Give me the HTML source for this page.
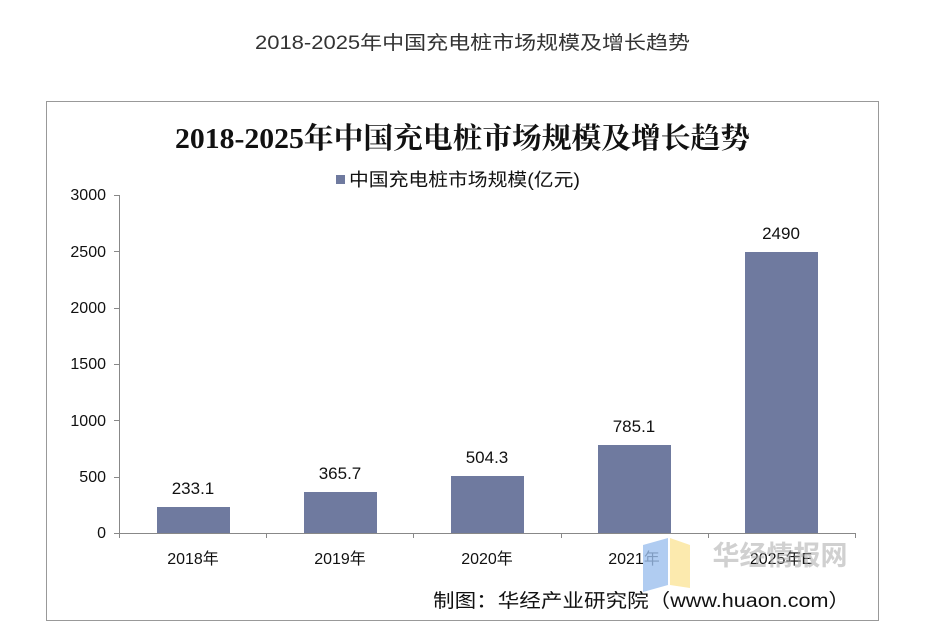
<!DOCTYPE html>
<html><head><meta charset="utf-8"><style>
body{margin:0;background:#fff;width:930px;height:625px;overflow:hidden;font-family:"Liberation Sans","Noto Sans CJK SC",sans-serif}
</style></head><body>
<svg width="930" height="625" xmlns="http://www.w3.org/2000/svg" style="font-family:'Liberation Sans','Noto Sans CJK SC',sans-serif">
<text x="255" y="49" font-size="19" fill="#333" textLength="435" lengthAdjust="spacingAndGlyphs">2018-2025年中国充电桩市场规模及增长趋势</text>
<rect x="46.5" y="101.5" width="832" height="519" fill="#fff" stroke="#999" stroke-width="1"/>
<text x="175" y="148" font-size="29" font-weight="bold" fill="#111" font-family="'Liberation Serif','Noto Serif CJK SC',serif" textLength="575" lengthAdjust="spacingAndGlyphs">2018-2025年中国充电桩市场规模及增长趋势</text>
<rect x="336" y="175" width="9" height="9" fill="#6f7a9f"/>
<text x="349" y="186" font-size="18" fill="#111" textLength="231" lengthAdjust="spacingAndGlyphs">中国充电桩市场规模(亿元)</text>
<g font-size="16" fill="#111" text-anchor="end">
<text x="106" y="200">3000</text><text x="106" y="257">2500</text><text x="106" y="313">2000</text>
<text x="106" y="369">1500</text><text x="106" y="426">1000</text><text x="106" y="482">500</text><text x="106" y="538">0</text>
</g>
<g stroke="#888" stroke-width="1">
<line x1="119.5" y1="195" x2="119.5" y2="538"/>
<line x1="114" y1="195.5" x2="119.5" y2="195.5"/><line x1="114" y1="251.5" x2="119.5" y2="251.5"/>
<line x1="114" y1="308.5" x2="119.5" y2="308.5"/><line x1="114" y1="364.5" x2="119.5" y2="364.5"/>
<line x1="114" y1="420.5" x2="119.5" y2="420.5"/><line x1="114" y1="477.5" x2="119.5" y2="477.5"/>
<line x1="114" y1="533.5" x2="855" y2="533.5"/>
<line x1="266.5" y1="533" x2="266.5" y2="538"/><line x1="413.5" y1="533" x2="413.5" y2="538"/>
<line x1="561.5" y1="533" x2="561.5" y2="538"/><line x1="708.5" y1="533" x2="708.5" y2="538"/>
<line x1="855.5" y1="533" x2="855.5" y2="538"/>
</g>
<g fill="#6f7a9f">
<rect x="157" y="507" width="73" height="26"/>
<rect x="304" y="492" width="73" height="41"/>
<rect x="451" y="476" width="73" height="57"/>
<rect x="598" y="445" width="73" height="88"/>
<rect x="745" y="252" width="73" height="281"/>
</g>
<g font-size="17" fill="#111" text-anchor="middle">
<text x="193" y="494">233.1</text><text x="340" y="479">365.7</text><text x="487" y="463">504.3</text>
<text x="634" y="432">785.1</text><text x="781" y="239">2490</text>
</g>
<g font-size="16" fill="#111" text-anchor="middle">
<text x="193" y="564">2018年</text><text x="340" y="564">2019年</text><text x="487" y="564">2020年</text>
<text x="634" y="564">2021年</text><text x="781" y="564">2025年E</text>
</g>
<polygon points="643,545 668,538 668,585 643,592" fill="#9cbfee" opacity="0.8"/>
<polygon points="670,538 690,545 690,588 670,585" fill="#fbe59a" opacity="0.8"/>
<text x="780" y="565" text-anchor="middle" font-size="27" font-weight="bold" fill="#aaa" opacity="0.55">华经情报网</text>
<text x="433" y="607" font-size="19" fill="#111" textLength="417" lengthAdjust="spacingAndGlyphs">制图：华经产业研究院（www.huaon.com）</text>
</svg>
</body></html>
